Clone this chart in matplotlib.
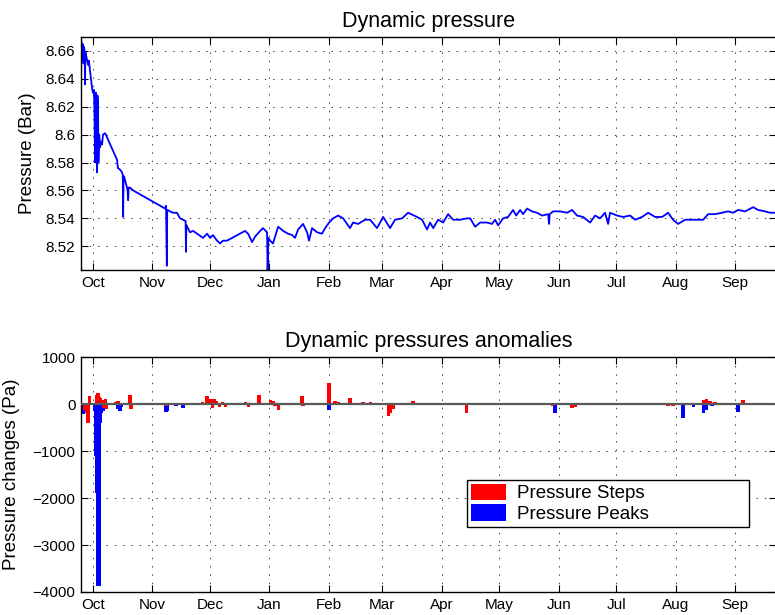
import datetime as dt
import numpy as np
import matplotlib
matplotlib.use('Agg')
import matplotlib.pyplot as plt
import matplotlib.dates as mdates
from matplotlib.patches import Patch
from matplotlib.ticker import FixedLocator, FixedFormatter

plt.rcParams['font.family'] = ['Liberation Sans', 'DejaVu Sans']
plt.rcParams['lines.scale_dashes'] = False

# ---------------- data ----------------
start_date = dt.datetime(2010, 10, 1)   # day 0

pressure_days = [
    -6.3, -6.2, -5.8, -5.4, -5.0, -4.8, -4.4, -4.2, -4.0, -3.5, -2.6, -2.2, -1.6, -0.5, 0.0, 0.5,
    0.8, 1.0, 1.2, 1.5, 1.8, 2.1, 2.3, 2.6, 2.8, 3.2, 3.7, 4.2, 4.7, 5.2, 6.3, 7.3,
    12.5, 13.0, 14.0, 15.1, 15.5, 15.7, 15.9, 16.2, 17.7, 18.0, 18.3, 18.6, 19.3, 20.9,
    37.6, 38.1, 38.5, 38.7, 39.1, 40.0, 41.8, 43.8, 45.4, 47.0, 48.3, 48.5, 48.7, 49.1,
    50.6, 52.2, 54.3, 57.4, 59.5, 61.1, 62.6, 64.7, 66.3, 67.8, 69.9,
    79.3, 80.9, 83.0, 84.6, 87.2, 88.7, 90.8, 91.1, 91.5, 92.4, 93.9, 96.6, 99.2, 101.8,
    103.9, 105.4, 107.0, 109.6, 111.7, 112.7, 114.3, 116.9, 119.5, 121.1, 123.2, 125.3,
    127.9, 130.5, 134.1, 135.7, 138.3, 142.0, 144.6, 148.2, 151.4, 155.0, 157.6, 161.3,
    164.4, 169.1, 171.7, 174.3, 175.9, 177.5, 180.1, 182.7, 185.3, 187.9, 191.5, 195.2, 196.8,
    199.4, 202.0, 205.6, 208.2, 209.8, 211.4, 214.0, 216.6, 219.2, 220.8, 222.9, 224.4,
    226.5, 229.1, 231.7, 234.3, 237.5, 238.0, 238.3, 240.1, 243.7, 247.4, 250.0, 252.6,
    255.7, 259.4, 262.0, 264.6, 267.2, 268.8, 269.8, 273.5, 276.6, 280.3, 282.9, 286.5,
    289.7, 293.3, 297.0, 300.1, 302.7, 305.3, 309.0, 312.6, 315.8, 318.4, 321.0, 324.6,
    328.3, 331.4, 334.0, 336.6, 340.3, 344.5, 347.1, 350.7, 353.3, 356.0,
]
pressure_bar = [
    8.617, 8.668, 8.662, 8.665, 8.651, 8.663, 8.660, 8.636, 8.659, 8.656, 8.650, 8.653, 8.646, 8.633, 8.630, 8.632,
    8.610, 8.580, 8.625, 8.630, 8.600, 8.573, 8.628, 8.620, 8.580, 8.600, 8.591, 8.595, 8.593, 8.600, 8.601, 8.598,
    8.582, 8.576, 8.575, 8.573, 8.571, 8.541, 8.570, 8.570, 8.562, 8.560, 8.553, 8.562, 8.562, 8.560,
    8.547, 8.549, 8.506, 8.546, 8.546, 8.545, 8.544, 8.544, 8.540, 8.539, 8.538, 8.516, 8.535, 8.534,
    8.530, 8.531, 8.529, 8.526, 8.529, 8.526, 8.528, 8.524, 8.522, 8.524, 8.524,
    8.531, 8.529, 8.523, 8.527, 8.531, 8.533, 8.530, 8.503, 8.526, 8.524, 8.522, 8.534, 8.531, 8.529,
    8.528, 8.526, 8.532, 8.536, 8.530, 8.524, 8.533, 8.530, 8.529, 8.533, 8.537, 8.540,
    8.542, 8.540, 8.533, 8.537, 8.536, 8.539, 8.539, 8.533, 8.541, 8.533, 8.539, 8.540,
    8.544, 8.541, 8.539, 8.532, 8.537, 8.533, 8.539, 8.537, 8.543, 8.539, 8.539, 8.540, 8.540,
    8.534, 8.537, 8.537, 8.536, 8.539, 8.535, 8.540, 8.541, 8.546, 8.542, 8.546, 8.543,
    8.547, 8.545, 8.544, 8.542, 8.543, 8.536, 8.543, 8.545, 8.545, 8.544, 8.546, 8.542,
    8.541, 8.537, 8.542, 8.540, 8.544, 8.536, 8.544, 8.542, 8.541, 8.542, 8.539, 8.541,
    8.544, 8.541, 8.541, 8.544, 8.539, 8.536, 8.539, 8.539, 8.539, 8.539, 8.543, 8.543,
    8.544, 8.545, 8.544, 8.546, 8.545, 8.548, 8.546, 8.545, 8.544, 8.544,
]

step_days = [
    -4.5, -3.5, -2.6, -1.8, 2.0, 2.6, 3.2, 4.0, 4.7, 5.5, 6.3, 7.0, 12.0, 13.0, 14.0, 19.3,
    19.8, 37.5, 38.5, 40.0, 42.0, 44.0, 45.5, 47.5, 50.0, 52.0, 54.0, 57.0, 59.5, 60.5, 61.5,
    62.5, 63.5, 64.5, 66.0, 67.5, 69.0, 70.0, 79.5, 81.0, 86.6, 88.0, 92.5, 94.0, 95.0, 96.6,
    109.1, 109.6, 118.5, 123.2, 126.3, 127.9, 130.5, 134.1, 134.8, 140.9, 142.5, 144.6, 151.4,
    154.0, 155.3, 156.6, 157.6, 158.7, 167.0, 167.6, 170.7, 173.3, 184.8, 191.5, 194.7, 195.3,
    205.6, 212.4, 238.5, 239.6, 250.0, 251.6, 255.7, 266.2, 270.9, 281.8, 287.1, 294.9, 300.1,
    302.7, 306.4, 318.4, 320.0, 322.0, 324.6, 339.2, 343.0, 347.0, 350.0, 353.0,
]
step_pa = [
    -120, -180, -400, 170, 200, 230, 160, 120, 80, -90, 100, -100, 40, 60, 30, 200,
    -100, 30, -40, 30, -30, 30, 20, 30, -30, 25, -20, 40, 170, 80, 110,
    -80, 100, 60, -60, 50, -70, 30, 40, -60, 185, 30, 90, 60, -50, -125,
    165, -50, 30, 455, 60, 50, -30, 130, -30, 40, 30, 50, 30,
    -260, -200, -100, 30, 30, 70, -30, 20, 20, 10, 10, -180, 30,
    30, 30, -30, -40, -85, -60, -20, 10, -30, -20, 10, -30, -40,
    -45, 10, 80, 100, 60, 40, 80, 20, -20, 30, 20,
]

peak_days = [-6.0, -5.0, -4.0, 1.0, 1.6, 2.1, 2.6, 3.1, 3.7, 4.2, 5.2, 13.0, 14.0, 15.0,
             38.0, 39.0, 43.3, 47.0, 119.5, 123.2, 155.0, 208.8, 241.1, 307.9, 313.2,
             318.4, 320.0, 323.0, 327.2, 336.6]
peak_pa = [-200, -220, -180, -150, -1100, -1900, -3880, -3880, -400, -180, -150, -100, -150, -60,
           -170, -150, -50, -80, -20, -120, -40, -30, -180, -300, -60,
           -190, -120, -40, -20, -160]

month_labels = ['Oct', 'Nov', 'Dec', 'Jan', 'Feb', 'Mar', 'Apr', 'May', 'Jun', 'Jul', 'Aug', 'Sep']
top_yticks = [8.52, 8.54, 8.56, 8.58, 8.60, 8.62, 8.64, 8.66]
top_ylabels = ['8.52', '8.54', '8.56', '8.58', '8.6', '8.62', '8.64', '8.66']
bottom_yticks = [-4000, -3000, -2000, -1000, 0, 1000]

# ---------------- plotting ----------------
base = mdates.date2num(start_date)
month_pos = [mdates.date2num(dt.datetime(2010 + (9 + i) // 12, (9 + i) % 12 + 1, 1)) for i in range(12)]
xlim = (base - 6.3, base + 356.5)

fig = plt.figure(figsize=(7.75, 6.15), dpi=100)
ax1 = fig.add_axes([0.1045, 0.561, 0.897, 0.379])
ax2 = fig.add_axes([0.1045, 0.0374, 0.897, 0.382])


def style(ax):
    ax.tick_params(direction='in', length=5, width=0.8, top=True, right=True,
                   labelsize=11, pad=4, colors='black')
    for s in ax.spines.values():
        s.set_linewidth(1.0)
    ax.grid(True, color='0.1', linestyle=(0, (1, 5)), linewidth=0.6)
    ax.set_axisbelow(True)
    ax.xaxis.set_major_locator(FixedLocator(month_pos))
    ax.xaxis.set_major_formatter(FixedFormatter(month_labels))
    ax.set_xlim(*xlim)


ax1.plot(base + np.array(pressure_days), pressure_bar, color='#0000ff', lw=1.3)
style(ax1)
ax1.set_ylim(8.503, 8.670)
ax1.yaxis.set_major_locator(FixedLocator(top_yticks))
ax1.yaxis.set_major_formatter(FixedFormatter(top_ylabels))
ax1.set_title('Dynamic pressure', fontsize=15.5, pad=7)
ax1.set_ylabel('Pressure (Bar)', fontsize=13.5)
ax1.yaxis.set_label_coords(-0.065, 0.5)

ax2.bar(base + np.array(peak_days), peak_pa, width=1.7, color='#0000ff', linewidth=0)
ax2.bar(base + np.array(step_days), step_pa, width=1.7, color='#ff0000', linewidth=0)
ax2.axhline(0, color='0.35', lw=1.6, zorder=3)
style(ax2)
ax2.set_ylim(-4000, 1000)
ax2.yaxis.set_major_locator(FixedLocator(bottom_yticks))
ax2.set_title('Dynamic pressures anomalies', fontsize=15.5, pad=7)
ax2.set_ylabel('Pressure changes (Pa)', fontsize=13.5)
ax2.yaxis.set_label_coords(-0.088, 0.5)

handles = [Patch(facecolor='#ff0000', edgecolor='none', label='Pressure Steps'),
           Patch(facecolor='#0000ff', edgecolor='none', label='Pressure Peaks')]
leg = ax2.legend(handles=handles, loc='upper left', bbox_to_anchor=(0.555, 0.277, 0.406, 0.2),
                 mode='expand', borderaxespad=0, fontsize=13.5, frameon=True, fancybox=False,
                 edgecolor='black', framealpha=1, handlelength=1.9, handleheight=1.0,
                 handletextpad=0.6, labelspacing=0.1, borderpad=0.2)
leg.get_frame().set_linewidth(1.0)

fig.savefig('out.png', dpi=100)
